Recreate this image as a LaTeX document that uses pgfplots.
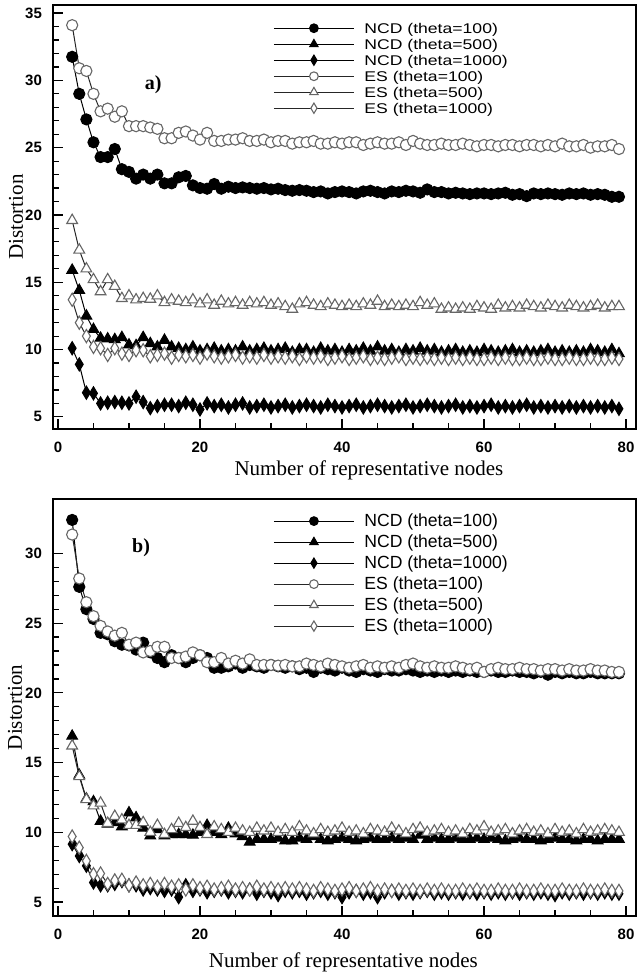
\documentclass[border=0pt]{standalone}
\usepackage{fontspec}
\setmainfont{Liberation Serif}
\setsansfont{Liberation Sans}
\usepackage{graphicx}
\usepackage{pgfplots}
\usepackage{pgfplotstable}
\pgfplotsset{compat=1.18}

% columns: x, NCD100, NCD500, NCD1000, ES100, ES500, ES1000
\pgfplotstableread{
x n1 n2 n3 e1 e2 e3
2 31.75 15.9 10.1 34.1 19.6 13.7
3 29.0 14.4 8.9 30.9 17.4 12.0
4 27.1 12.5 6.8 30.7 16.0 11.0
5 25.4 11.5 6.75 29.0 15.2 10.2
6 24.3 10.85 6.0 27.7 14.3 10.1
7 24.3 10.8 6.05 27.9 15.2 9.6
8 24.9 10.75 6.1 27.3 14.7 10.1
9 23.4 10.9 6.05 27.7 13.8 9.7
10 23.2 10.35 6.0 26.6 14.0 9.6
11 22.7 10.3 6.5 26.6 13.7 9.95
12 23.0 10.9 6.1 26.6 13.8 9.95
13 22.7 10.45 5.65 26.5 13.75 9.5
14 23.0 10.2 5.8 26.4 14.0 9.6
15 22.35 10.7 5.9 25.7 13.5 9.7
16 22.35 10.2 5.9 25.7 13.7 9.4
17 22.8 10.1 5.8 26.1 13.6 9.6
18 22.9 10.0 6.05 26.2 13.5 9.5
19 22.2 10.2 5.9 25.9 13.7 9.6
20 22.0 9.9 5.55 25.6 13.4 9.4
21 21.95 10.0 6.0 26.1 13.7 9.7
22 22.3 10.1 5.8 25.5 13.3 9.5
23 21.95 9.9 5.9 25.5 13.6 9.4
24 22.1 10.0 5.7 25.6 13.4 9.5
25 22.0 9.9 5.9 25.6 13.5 9.6
26 22.05 10.2 6.0 25.7 13.3 9.4
27 22.0 9.9 5.7 25.5 13.5 9.5
28 21.95 10.0 5.8 25.5 13.4 9.4
29 22.0 10.1 5.9 25.6 13.5 9.6
30 21.9 9.9 5.7 25.4 13.3 9.4
31 21.95 10.0 5.8 25.5 13.4 9.5
32 21.85 10.1 5.9 25.5 13.2 9.4
33 21.8 9.8 5.7 25.3 13.0 9.5
34 21.85 10.0 5.8 25.4 13.4 9.3
35 21.8 10.0 5.9 25.4 13.5 9.5
36 21.7 9.8 5.8 25.5 13.3 9.4
37 21.75 10.1 5.7 25.3 13.2 9.5
38 21.6 9.9 5.9 25.3 13.4 9.3
39 21.7 10.0 5.8 25.4 13.3 9.4
40 21.75 9.8 5.7 25.3 13.2 9.5
41 21.7 10.0 5.8 25.4 13.3 9.3
42 21.6 9.9 5.9 25.4 13.2 9.4
43 21.75 10.1 5.7 25.2 13.4 9.5
44 21.8 9.9 5.8 25.3 13.3 9.3
45 21.7 10.2 5.9 25.4 13.6 9.4
46 21.6 9.9 5.8 25.3 13.2 9.3
47 21.75 10.0 5.7 25.3 13.3 9.4
48 21.7 9.8 5.8 25.4 13.2 9.5
49 21.8 10.0 5.9 25.2 13.3 9.3
50 21.75 9.9 5.7 25.5 13.2 9.4
51 21.65 10.1 5.8 25.3 13.5 9.3
52 21.9 9.9 5.9 25.2 13.3 9.4
53 21.7 10.0 5.8 25.2 13.4 9.3
54 21.7 9.8 5.7 25.3 13.0 9.4
55 21.6 9.9 5.8 25.2 13.1 9.3
56 21.65 10.0 5.9 25.2 13.0 9.4
57 21.6 9.8 5.7 25.3 13.1 9.3
58 21.55 9.9 5.8 25.2 13.0 9.4
59 21.6 9.8 5.7 25.1 13.2 9.3
60 21.6 10.0 5.8 25.2 13.1 9.3
61 21.55 9.9 5.9 25.2 13.0 9.4
62 21.6 9.8 5.7 25.1 13.3 9.3
63 21.65 9.9 5.8 25.2 13.1 9.4
64 21.5 10.0 5.7 25.2 13.2 9.3
65 21.55 9.8 5.8 25.1 13.1 9.3
66 21.4 9.9 5.9 25.2 13.3 9.4
67 21.6 9.8 5.7 25.2 13.2 9.3
68 21.55 9.9 5.8 25.1 13.1 9.3
69 21.6 10.0 5.7 25.2 13.3 9.4
70 21.55 9.8 5.8 25.1 13.2 9.3
71 21.5 9.9 5.7 25.3 13.1 9.3
72 21.6 9.8 5.8 25.1 13.3 9.4
73 21.55 9.9 5.7 25.1 13.2 9.3
74 21.6 9.8 5.8 25.2 13.1 9.3
75 21.5 10.0 5.7 25.0 13.2 9.4
76 21.55 9.9 5.8 25.1 13.3 9.3
77 21.5 9.8 5.7 25.1 13.1 9.3
78 21.35 10.0 5.8 25.2 13.2 9.4
79 21.35 9.7 5.6 24.9 13.2 9.3
}\dataa

\pgfplotstableread{
x n1 n2 n3 e1 e2 e3
2 32.4 16.9 9.15 31.35 16.2 9.7
3 27.6 14.1 8.3 28.2 14.0 8.9
4 26.0 12.4 7.6 26.5 12.35 7.95
5 25.3 12.2 6.4 25.5 11.9 7.0
6 24.3 10.8 6.2 24.8 12.1 7.05
7 24.2 10.6 6.2 24.4 10.65 6.3
8 23.7 10.7 6.3 24.1 11.15 6.55
9 23.45 10.4 6.5 24.3 10.9 6.6
10 23.4 11.4 6.2 23.45 10.5 6.2
11 23.1 11.05 6.2 23.6 10.5 6.4
12 23.6 10.3 5.9 22.9 10.7 6.2
13 22.9 9.75 6.0 23.0 10.0 6.3
14 22.5 10.2 5.9 23.3 10.5 6.1
15 22.2 9.75 5.8 23.3 9.85 6.3
16 22.7 9.85 5.9 22.5 10.2 6.1
17 22.5 9.85 5.35 22.5 10.65 6.2
18 22.2 9.85 6.2 22.6 10.35 5.9
19 22.5 9.8 5.8 22.9 10.8 6.2
20 22.7 10.0 5.9 22.7 10.35 6.0
21 22.5 10.5 5.7 22.2 9.85 6.1
22 21.8 10.0 5.8 22.2 10.4 5.9
23 21.8 9.85 5.9 22.5 10.2 6.0
24 21.9 10.3 5.7 22.1 10.0 6.1
25 22.1 9.9 5.8 22.3 10.3 5.9
26 21.8 9.7 5.7 22.1 10.1 6.0
27 22.0 9.3 5.9 22.4 10.0 5.9
28 21.9 9.5 5.6 22.0 10.3 6.1
29 21.8 9.5 5.8 22.0 10.1 5.9
30 22.0 9.5 5.7 22.0 10.3 6.0
31 21.9 9.6 5.5 21.95 10.0 5.9
32 21.8 9.4 5.8 22.0 10.2 6.0
33 21.9 9.4 5.7 21.9 10.0 5.9
34 21.7 9.6 5.8 21.9 10.4 6.0
35 21.8 9.5 5.6 22.1 10.1 5.9
36 21.5 9.7 5.7 22.0 9.9 5.8
37 21.8 9.5 5.8 21.9 10.2 6.0
38 21.7 9.4 5.6 22.1 10.0 5.9
39 21.6 9.5 5.7 22.0 10.1 5.8
40 21.8 9.6 5.35 21.9 10.3 5.9
41 21.6 9.5 5.7 21.8 10.0 6.0
42 21.5 9.4 5.8 21.9 10.1 5.8
43 21.7 9.5 5.6 22.0 9.9 5.9
44 21.6 9.6 5.7 21.8 10.2 6.0
45 21.5 9.5 5.35 21.9 10.1 5.8
46 21.7 9.5 5.7 21.8 10.0 5.9
47 21.6 9.6 5.8 21.9 10.3 5.8
48 21.6 9.5 5.6 21.8 10.1 5.9
49 21.7 9.6 5.7 22.0 9.9 5.8
50 21.6 9.5 5.6 22.1 10.2 5.9
51 21.5 9.8 5.7 21.9 10.3 5.8
52 21.6 9.5 5.8 21.8 10.0 5.9
53 21.5 9.6 5.6 21.9 10.1 5.8
54 21.6 9.5 5.7 21.8 10.2 5.9
55 21.5 9.5 5.6 21.8 10.0 5.8
56 21.6 9.6 5.7 21.9 10.1 5.8
57 21.5 9.5 5.6 21.8 9.9 5.9
58 21.6 9.5 5.7 21.7 10.2 5.8
59 21.5 9.6 5.6 21.8 10.1 5.9
60 21.5 9.5 5.7 21.5 10.4 5.8
61 21.6 9.6 5.6 21.7 10.0 5.8
62 21.5 9.5 5.7 21.8 10.1 5.9
63 21.5 9.4 5.6 21.7 10.2 5.8
64 21.6 9.5 5.7 21.7 9.9 5.8
65 21.5 9.6 5.6 21.8 10.1 5.9
66 21.5 9.5 5.7 21.7 10.2 5.8
67 21.4 9.5 5.6 21.7 10.0 5.8
68 21.5 9.4 5.7 21.6 10.1 5.9
69 21.3 9.5 5.6 21.7 9.9 5.8
70 21.5 9.6 5.5 21.7 10.2 5.8
71 21.4 9.5 5.7 21.6 10.0 5.9
72 21.5 9.5 5.6 21.7 10.1 5.8
73 21.4 9.4 5.7 21.6 9.9 5.8
74 21.4 9.5 5.6 21.6 10.2 5.9
75 21.5 9.5 5.7 21.7 10.0 5.8
76 21.4 9.4 5.6 21.6 10.1 5.8
77 21.4 9.5 5.7 21.6 10.2 5.9
78 21.4 9.5 5.6 21.5 10.1 5.8
79 21.4 9.5 5.6 21.5 10.0 5.8
}\datab

\pgfplotsset{
  ncd100/.style={black, line width=0.5pt, mark=*, mark size=2.8pt, mark options={solid, draw=black, fill=black}},
  ncd500/.style={black, line width=0.5pt, mark=triangle*, mark size=3.1pt, mark options={solid, draw=black, fill=black}},
  ncd1000/.style={black, line width=0.5pt, mark=diamond*, mark size=3.3pt, mark options={solid, draw=black, fill=black, xscale=0.8}},
  es100/.style={black!85, line width=0.5pt, mark=*, mark size=2.8pt, mark options={solid, draw=black!60, fill=white, line width=0.55pt}},
  es500/.style={black!85, line width=0.5pt, mark=triangle*, mark size=3.1pt, mark options={solid, draw=black!60, fill=white, line width=0.55pt}},
  es1000/.style={black!85, line width=0.5pt, mark=diamond*, mark size=3.3pt, mark options={solid, draw=black!60, fill=white, line width=0.55pt, xscale=0.8}},
  common/.style={
    scale only axis, width=291.5pt,
    xmin=-0.7, xmax=81.4,
    xtick={0,20,40,60,80}, minor x tick num=3,
    minor y tick num=4,
    tick align=inside, tick pos=left,
    major tick length=5pt, minor tick length=2.8pt,
    axis line style={line width=0.9pt},
    tick style={line width=0.6pt, black},
    ticklabel style={font=\sffamily\bfseries\fontsize{7.5}{8}\selectfont},
    /pgf/number format/assume math mode=true,
    xticklabel style={yshift=-3pt},
    yticklabel style={xshift=-2pt},
    label style={font=\fontsize{10.5}{12}\selectfont},
    legend cell align=left,
    legend image code/.code={\draw[mark repeat=2,mark phase=2,##1,every mark/.append style={scale=0.78}] plot coordinates {(0pt,0pt)(20pt,0pt)(40pt,0pt)};},
  }
}
\newcommand{\sq}[1]{\scalebox{1}[0.8]{#1}}

\begin{document}
\begin{tikzpicture}
% ---------- panel a ----------
\begin{axis}[common,
  at={(0pt,243.5pt)}, anchor=south west, height=212pt,
  ymin=4.1, ymax=35.6, ytick={5,10,15,20,25,30,35},
  xlabel={Number of representative nodes}, ylabel={Distortion},
  xlabel style={at={(axis description cs:0.542,-0.097)}, anchor=center},
  ylabel style={at={(axis description cs:-0.0635,0.5)}, anchor=center},
  legend style={at={(axis description cs:0.3774,0.965)}, anchor=north west,
    draw=none, fill=none, inner xsep=0pt, inner ysep=0pt,
    font=\sffamily\fontsize{8.8}{8}\selectfont, row sep=0pt, column sep=5pt,
    nodes={inner sep=0pt, text height=6.4pt, text depth=1.6pt}},
]
\addplot[ncd100] table[x=x,y=n1]{\dataa};
\addlegendentry{\sq{NCD (theta=100)}}
\addplot[ncd500] table[x=x,y=n2]{\dataa};
\addlegendentry{\sq{NCD (theta=500)}}
\addplot[ncd1000] table[x=x,y=n3]{\dataa};
\addlegendentry{\sq{NCD (theta=1000)}}
\addplot[es100] table[x=x,y=e1]{\dataa};
\addlegendentry{\sq{ES (theta=100)}}
\addplot[es500] table[x=x,y=e2]{\dataa};
\addlegendentry{\sq{ES (theta=500)}}
\addplot[es1000] table[x=x,y=e3]{\dataa};
\addlegendentry{\sq{ES (theta=1000)}}
\node[font=\bfseries\fontsize{10}{12}\selectfont] at (axis cs:13.4,29.65) {a)};
\end{axis}
% ---------- panel b ----------
\begin{axis}[common,
  at={(0pt,0pt)}, anchor=south west, height=208.5pt,
  ymin=4.0, ymax=33.9, ytick={5,10,15,20,25,30},
  xlabel={Number of representative nodes}, ylabel={Distortion},
  xlabel style={at={(axis description cs:0.498,-0.110)}, anchor=center},
  ylabel style={at={(axis description cs:-0.065,0.5)}, anchor=center},
  legend style={at={(axis description cs:0.3774,0.970)}, anchor=north west,
    draw=none, fill=none, inner xsep=0pt, inner ysep=0pt,
    font=\sffamily\fontsize{8.8}{10}\selectfont, row sep=1.3pt, column sep=5pt,
    nodes={inner sep=0pt, text height=7.2pt, text depth=2pt}},
]
\addplot[ncd100] table[x=x,y=n1]{\datab};
\addlegendentry{NCD (theta=100)}
\addplot[ncd500] table[x=x,y=n2]{\datab};
\addlegendentry{NCD (theta=500)}
\addplot[ncd1000] table[x=x,y=n3]{\datab};
\addlegendentry{NCD (theta=1000)}
\addplot[es100] table[x=x,y=e1]{\datab};
\addlegendentry{ES (theta=100)}
\addplot[es500] table[x=x,y=e2]{\datab};
\addlegendentry{ES (theta=500)}
\addplot[es1000] table[x=x,y=e3]{\datab};
\addlegendentry{ES (theta=1000)}
\node[font=\bfseries\fontsize{10}{12}\selectfont] at (axis cs:11.7,30.43) {b)};
\end{axis}
\pgfresetboundingbox
\useasboundingbox (-26.5pt,-29.5pt) rectangle (292pt,458pt);
\end{tikzpicture}
\end{document}
